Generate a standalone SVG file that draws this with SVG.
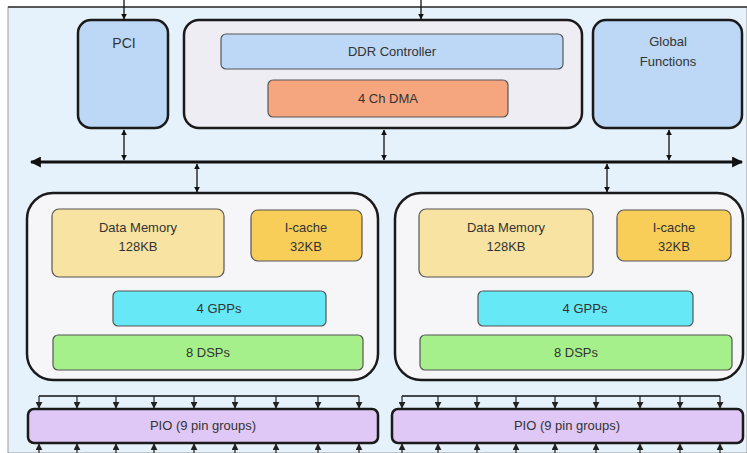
<svg xmlns="http://www.w3.org/2000/svg" width="747" height="453" viewBox="0 0 747 453">
<defs>
<marker id="ah" viewBox="0 0 10 10" refX="9" refY="5" markerWidth="6" markerHeight="6" orient="auto-start-reverse" markerUnits="userSpaceOnUse"><path d="M0,0 L10,5 L0,10 z" fill="#111"/></marker>
<marker id="bh" viewBox="0 0 10 10" refX="9" refY="5" markerWidth="11" markerHeight="11" orient="auto-start-reverse" markerUnits="userSpaceOnUse"><path d="M0,0 L10,5 L0,10 z" fill="#111"/></marker>
<marker id="ph" viewBox="0 0 10 10" refX="9" refY="5" markerWidth="7" markerHeight="7" orient="auto" markerUnits="userSpaceOnUse"><path d="M0,0 L10,5 L0,10 z" fill="#222"/></marker>
</defs>
<style>
text{font-family:"Liberation Sans",Arial,sans-serif;font-size:13px;fill:#333;text-anchor:middle}
.big{stroke:#1a1a1a;stroke-width:2.5}
.inner{stroke:#555;stroke-width:1.2}
.conn{stroke:#111;stroke-width:1.3;fill:none}
</style>
<rect x="0" y="0" width="747" height="453" fill="#ffffff"/>
<rect x="8" y="7" width="739" height="446" fill="#e5f1fb" stroke="#999" stroke-width="1"/>
<line x1="8" y1="7" x2="747" y2="7" stroke="#333" stroke-width="1.5"/>

<g id="pci">
<rect class="big" x="78" y="20" width="90" height="108" rx="13" fill="#bcd8f6"/>
<text x="124" y="48" style="font-size:14px">PCI</text>
</g>
<g id="ddr-block">
<rect class="big" x="184" y="20" width="398" height="108" rx="15" fill="#efedf4"/>
</g>
<g id="ddr-controller">
<rect class="inner" x="221" y="34" width="342" height="35" rx="5" fill="#bcd8f6"/>
<text x="392" y="56">DDR Controller</text>
</g>
<g id="dma">
<rect class="inner" x="268" y="80" width="240" height="37" rx="5" fill="#f6a67f"/>
<text x="388" y="103">4 Ch DMA</text>
</g>
<g id="global">
<rect class="big" x="593" y="20" width="149" height="108" rx="13" fill="#bcd8f6"/>
<text x="668" y="46">Global</text>
<text x="668" y="66">Functions</text>
</g>

<g id="cluster-left">
<rect class="big" x="27" y="193" width="351" height="187" rx="26" fill="#f6f5f7"/>
</g>
<g id="dm-left">
<rect class="inner" x="52" y="209" width="172" height="68" rx="7" fill="#f9e3a2"/>
<text x="138" y="232">Data Memory</text>
<text x="138" y="251">128KB</text>
</g>
<g id="ic-left">
<rect class="inner" x="251" y="210" width="111" height="51" rx="7" fill="#f8cd58"/>
<text x="306" y="232">I-cache</text>
<text x="306" y="251">32KB</text>
</g>
<g id="gpp-left">
<rect class="inner" x="113" y="291" width="213" height="35" rx="5" fill="#66e8f6"/>
<text x="219" y="313">4 GPPs</text>
</g>
<g id="dsp-left">
<rect class="inner" x="53" y="335" width="310" height="35" rx="5" fill="#a6f08c"/>
<text x="208" y="357">8 DSPs</text>
</g>

<g id="cluster-right">
<rect class="big" x="395" y="193" width="348" height="187" rx="26" fill="#f6f5f7"/>
</g>
<g id="dm-right">
<rect class="inner" x="419" y="209" width="174" height="68" rx="7" fill="#f9e3a2"/>
<text x="506" y="232">Data Memory</text>
<text x="506" y="251">128KB</text>
</g>
<g id="ic-right">
<rect class="inner" x="617" y="210" width="114" height="51" rx="7" fill="#f8cd58"/>
<text x="674" y="232">I-cache</text>
<text x="674" y="251">32KB</text>
</g>
<g id="gpp-right">
<rect class="inner" x="478" y="291" width="215" height="35" rx="5" fill="#66e8f6"/>
<text x="585" y="313">4 GPPs</text>
</g>
<g id="dsp-right">
<rect class="inner" x="420" y="335" width="312" height="35" rx="5" fill="#a6f08c"/>
<text x="576" y="357">8 DSPs</text>
</g>

<g id="pio-left">
<rect class="big" x="28" y="409" width="350" height="34" rx="6" fill="#dfc8f5"/>
<text x="203" y="430">PIO (9 pin groups)</text>
</g>
<g id="pio-right">
<rect class="big" x="392" y="409" width="351" height="34" rx="6" fill="#dfc8f5"/>
<text x="567" y="430">PIO (9 pin groups)</text>
</g>

<g id="connectors">
<line x1="31" y1="162" x2="742" y2="162" stroke="#111" stroke-width="3" marker-start="url(#bh)" marker-end="url(#bh)"/>
<line class="conn" x1="124" y1="0" x2="124" y2="19" marker-end="url(#ah)"/>
<line class="conn" x1="421" y1="0" x2="421" y2="19" marker-end="url(#ah)"/>
<line class="conn" x1="124" y1="130" x2="124" y2="160" marker-start="url(#ah)" marker-end="url(#ah)"/>
<line class="conn" x1="384" y1="130" x2="384" y2="160" marker-start="url(#ah)" marker-end="url(#ah)"/>
<line class="conn" x1="669" y1="130" x2="669" y2="160" marker-start="url(#ah)" marker-end="url(#ah)"/>
<line class="conn" x1="197" y1="164" x2="197" y2="192" marker-start="url(#ah)" marker-end="url(#ah)"/>
<line class="conn" x1="607" y1="164" x2="607" y2="192" marker-start="url(#ah)" marker-end="url(#ah)"/>

<line class="conn" x1="39" y1="396" x2="359" y2="396" stroke-width="1"/>
<line class="conn" x1="402" y1="396" x2="720" y2="396" stroke-width="1"/>
<g stroke="#222" stroke-width="1.2" marker-end="url(#ph)">
<line x1="39" y1="396" x2="39" y2="408"/><line x1="77" y1="396" x2="77" y2="408"/><line x1="116" y1="396" x2="116" y2="408"/><line x1="154" y1="396" x2="154" y2="408"/><line x1="194" y1="396" x2="194" y2="408"/><line x1="235" y1="396" x2="235" y2="408"/><line x1="276" y1="396" x2="276" y2="408"/><line x1="318" y1="396" x2="318" y2="408"/><line x1="359" y1="396" x2="359" y2="408"/>
<line x1="402" y1="396" x2="402" y2="408"/><line x1="438" y1="396" x2="438" y2="408"/><line x1="477" y1="396" x2="477" y2="408"/><line x1="516" y1="396" x2="516" y2="408"/><line x1="555" y1="396" x2="555" y2="408"/><line x1="596" y1="396" x2="596" y2="408"/><line x1="640" y1="396" x2="640" y2="408"/><line x1="680" y1="396" x2="680" y2="408"/><line x1="720" y1="396" x2="720" y2="408"/>
</g>
<g stroke="#222" stroke-width="1.2" marker-end="url(#ph)">
<line x1="39" y1="453" x2="39" y2="444"/><line x1="77" y1="453" x2="77" y2="444"/><line x1="116" y1="453" x2="116" y2="444"/><line x1="154" y1="453" x2="154" y2="444"/><line x1="194" y1="453" x2="194" y2="444"/><line x1="235" y1="453" x2="235" y2="444"/><line x1="276" y1="453" x2="276" y2="444"/><line x1="318" y1="453" x2="318" y2="444"/><line x1="359" y1="453" x2="359" y2="444"/>
<line x1="402" y1="453" x2="402" y2="444"/><line x1="438" y1="453" x2="438" y2="444"/><line x1="477" y1="453" x2="477" y2="444"/><line x1="516" y1="453" x2="516" y2="444"/><line x1="555" y1="453" x2="555" y2="444"/><line x1="596" y1="453" x2="596" y2="444"/><line x1="640" y1="453" x2="640" y2="444"/><line x1="680" y1="453" x2="680" y2="444"/><line x1="720" y1="453" x2="720" y2="444"/>
</g>
</g>
</svg>
